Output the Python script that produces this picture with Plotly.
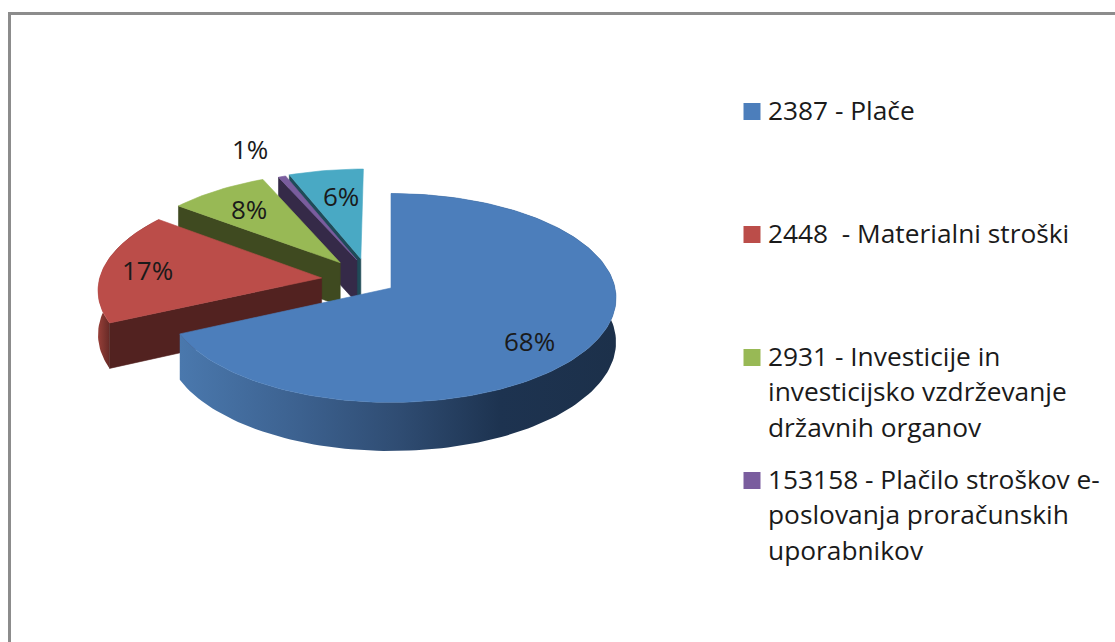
import math
import plotly.graph_objects as go

# --- data ---
legend_names = ["2387 - Plače", "2448\u00a0\u00a0- Materialni stroški",
                "2931 - Investicije in investicijsko vzdrževanje državnih organov",
                "153158 - Plačilo stroškov e-poslovanja proračunskih uporabnikov",
                "Other"]
shares = [68, 17.4, 8.0, 0.6, 6.0]

# --- styling ---
top_colors = ["#4c7ebb", "#bb4d49", "#98b955", "#7a5d9e", "#49a9c4"]
face_colors = ["#2f4c72", "#522220", "#3f4a20", "#352a48", "#1f4b58"]
legend_lines = [["2387 - Plače"], ["2448\u00a0\u00a0- Materialni stroški"],
                ["2931 - Investicije in", "investicijsko vzdrževanje", "državnih organov"],
                ["153158 - Plačilo stroškov e-", "poslovanja proračunskih", "uporabnikov"]]
legend_y = [[110], [233], [356, 391, 427], [479, 514, 550]]
explode_x = [0, -70, -52, -35, -31]
explode_z = [0, 22, 56, 62, 65]
label_xy = [(529, 341), (147, 270), (249, 209), (250, 149), (341, 196)]
FONT = "Open Sans, sans-serif"
LABEL_SIZE = 26
LEGEND_SIZE = 26.3
CX, CY, R, K, TILT, DEPTH = 391, 288, 224, 0.095, 0.462, 44


def project(x, z):
    s = 1 / (1 + K * z / R)
    return CX + x * s, CY - TILT * z * s, s


rim_stops = [
    [(180, "#4a78ad"), (300, "#3c618f"), (400, "#2f4c72"), (500, "#1d3350"), (620, "#1c304a")],
    [(94, "#a8473f"), (112, "#5c2522")],
    None, None, None,
]

fig = go.Figure()


def poly(xs, ys, color=None, stops=None):
    style = dict(fillcolor=color, line=dict(color=color, width=0.6))
    if stops:
        lo, hi = stops[0][0], stops[-1][0]
        style = dict(line=dict(width=0),
                     fillgradient=dict(type="horizontal", start=lo, stop=hi,
                                       colorscale=[[(x - lo) / (hi - lo), c] for x, c in stops]))
    fig.add_trace(go.Scatter(x=xs, y=ys, mode="lines", fill="toself", hoverinfo="skip",
                             showlegend=False, **style))


starts = [sum(shares[:i]) * 3.6 for i in range(len(shares))]
for i in [4, 3, 2, 1, 0]:
    a0, a1 = starts[i], starts[i] + shares[i] * 3.6
    ox, oz = explode_x[i], explode_z[i]
    steps = max(3, int((a1 - a0) / 1.5))
    angles = [a0 + (a1 - a0) * j / steps for j in range(steps + 1)]
    rim = [(ox + R * math.sin(math.radians(a)), oz + R * math.cos(math.radians(a))) for a in angles]
    # rim strip (its back part stays hidden under the top face), horizontal gradient
    if rim_stops[i]:
        up = [project(*p) for p in rim]
        xs = [p[0] for p in up] + [p[0] for p in reversed(up)]
        ys = [p[1] for p in up] + [p[1] + DEPTH * p[2] for p in reversed(up)]
        poly(xs + xs[:1], ys + ys[:1], stops=rim_stops[i])
    # cut face at the start of the slice
    if i > 0:
        ax, ay, sa = project(ox, oz)
        bx, by, sb = project(*rim[0])
        poly([ax, bx, bx, ax, ax], [ay, by, by + DEPTH * sb, ay + DEPTH * sa, ay], face_colors[i])
    # top face
    pts = [project(ox, oz)] + [project(*p) for p in rim]
    poly([p[0] for p in pts] + [pts[0][0]], [p[1] for p in pts] + [pts[0][1]], top_colors[i])

annotations = []
for (lx, ly), v in zip(label_xy, shares):
    annotations.append(dict(x=lx, y=ly, text=f"{round(v)}%", showarrow=False,
                            font=dict(family=FONT, size=LABEL_SIZE, color="#1a1a1a")))

for lines, ys, c in zip(legend_lines, legend_y, top_colors):
    fig.add_trace(go.Scatter(x=[752], y=[ys[0] + 1.5], mode="markers", hoverinfo="skip", showlegend=False,
                             marker=dict(symbol="square", size=17, color=c)))
    for text, y in zip(lines, ys):
        annotations.append(dict(x=766, y=y, text=text, showarrow=False, xanchor="left",
                                font=dict(family=FONT, size=LEGEND_SIZE, color="#1a1a1a")))

fig.update_layout(
    width=1115, height=642, margin=dict(l=0, r=0, t=0, b=0),
    paper_bgcolor="white", plot_bgcolor="white", showlegend=False,
    xaxis=dict(range=[0, 1115], visible=False, fixedrange=True),
    yaxis=dict(range=[642, 0], visible=False, fixedrange=True),
    annotations=annotations,
    shapes=[
        dict(type="line", x0=8, x1=1115, y0=13.5, y1=13.5, line=dict(color="#8c8c8c", width=3)),
        dict(type="line", x0=9.5, x1=9.5, y0=12, y1=642, line=dict(color="#8c8c8c", width=3)),
    ],
)
fig.write_html("out.html", config=dict(displayModeBar=False),
               post_script="document.body.style.margin='0';document.documentElement.style.overflow='hidden';")
